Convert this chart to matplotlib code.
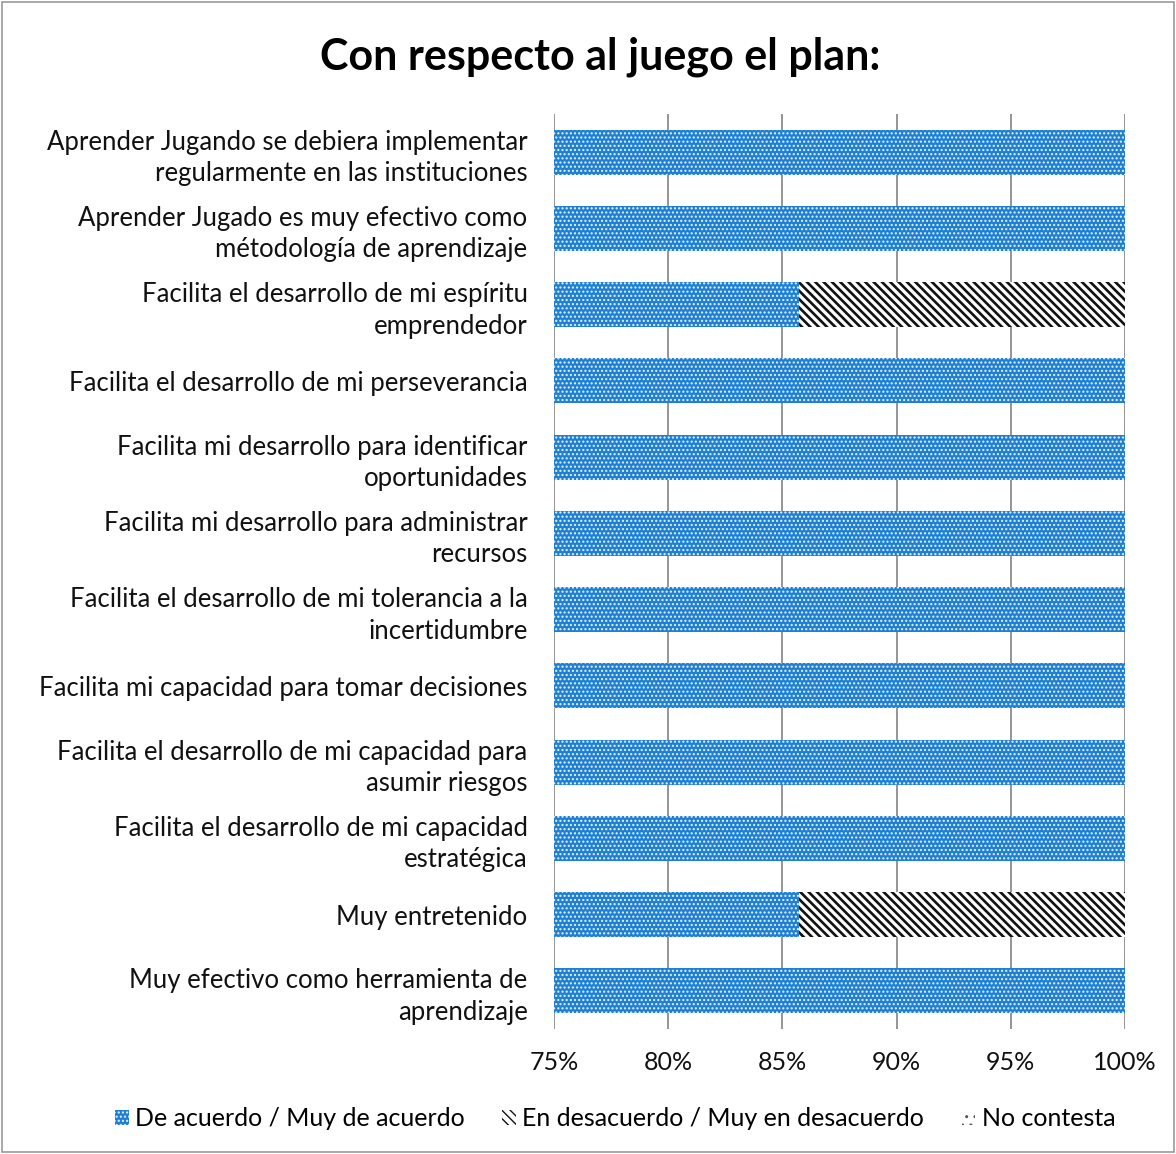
import numpy as np
import matplotlib.pyplot as plt
import matplotlib as mpl
from matplotlib.patches import Rectangle

plt.rcParams['font.family'] = ['Lato', 'DejaVu Sans']

categories = [
    "Aprender Jugando se debiera implementar\nregularmente en las instituciones",
    "Aprender Jugado es muy efectivo como\nmétodología de aprendizaje",
    "Facilita el desarrollo de mi espíritu\nemprendedor",
    "Facilita el desarrollo de mi perseverancia",
    "Facilita mi desarrollo para identificar\noportunidades",
    "Facilita mi desarrollo para administrar\nrecursos",
    "Facilita el desarrollo de mi tolerancia a la\nincertidumbre",
    "Facilita mi capacidad para tomar decisiones",
    "Facilita el desarrollo de mi capacidad para\nasumir riesgos",
    "Facilita el desarrollo de mi capacidad\nestratégica",
    "Muy entretenido",
    "Muy efectivo como herramienta de\naprendizaje",
]
acuerdo = [1.0, 1.0, 6/7, 1.0, 1.0, 1.0, 1.0, 1.0, 1.0, 1.0, 6/7, 1.0]
desacuerdo = [0.0, 0.0, 1/7, 0.0, 0.0, 0.0, 0.0, 0.0, 0.0, 0.0, 1/7, 0.0]
no_contesta = [0.0] * 12
series_names = ["De acuerdo / Muy de acuerdo", "En desacuerdo / Muy en desacuerdo", "No contesta"]
xticks = [0.75, 0.80, 0.85, 0.90, 0.95, 1.00]
xlabels = ["75%", "80%", "85%", "90%", "95%", "100%"]

fig = plt.figure(figsize=(11.76, 11.54), dpi=100)
ax = fig.add_axes([554/1176, 1-1029/1154, (1125-554)/1176, (1029-114)/1154])

y = np.arange(len(categories))
h = 0.59
blue = '#1f80d2'
styles = [
    dict(color=blue, hatch='....', edgecolor='#e6f2ff', hlw=1.0),
    dict(color='white', hatch='\\\\\\\\', edgecolor='#111111', hlw=1.9),
    dict(color='white', hatch='..', edgecolor='#555555', hlw=1.0),
]

lefts = np.zeros(len(categories))
handles = []
for vals, st in zip([acuerdo, desacuerdo, no_contesta], styles):
    with mpl.rc_context({'hatch.linewidth': st['hlw']}):
        ax.barh(y, vals, left=lefts, height=h, color=st['color'], hatch=st['hatch'],
                edgecolor=st['edgecolor'], linewidth=0, zorder=3)
        handles.append(Rectangle((0, 0), 1, 1, facecolor=st['color'], hatch=st['hatch'],
                                 edgecolor=st['edgecolor'], linewidth=0))
    lefts = lefts + np.array(vals)

ax.set_xlim(0.75, 1.0)
ax.set_ylim(len(categories) - 0.5, -0.5)
ax.set_yticks(y)
ax.set_yticklabels(categories, fontsize=18.5, color='#111111', linespacing=1.32)
ax.set_xticks(xticks)
ax.set_xticklabels(xlabels, fontsize=18, color='#111111')
ax.tick_params(axis='y', length=0, pad=19)
ax.tick_params(axis='x', length=0, pad=16)
for s in ax.spines.values():
    s.set_visible(False)
ax.grid(axis='x', color='#8c8c8c', linewidth=1.3, zorder=0)
ax.set_axisbelow(True)

fig.text(0.51, 1-57/1154, "Con respecto al juego el plan:", ha='center', va='center',
         fontsize=31, fontweight='bold', color='black')

fig.legend(handles, series_names, loc='center', bbox_to_anchor=(0.523, 1-1119/1154), ncol=3,
           frameon=False, fontsize=18, handlelength=0.55, handleheight=0.55, handletextpad=0.25,
           columnspacing=1.5)

fig.add_artist(Rectangle((0.002, 0.002), 0.996, 0.996, transform=fig.transFigure,
                         fill=False, edgecolor='#999999', linewidth=1.2))

fig.savefig('out.png', dpi=100)
